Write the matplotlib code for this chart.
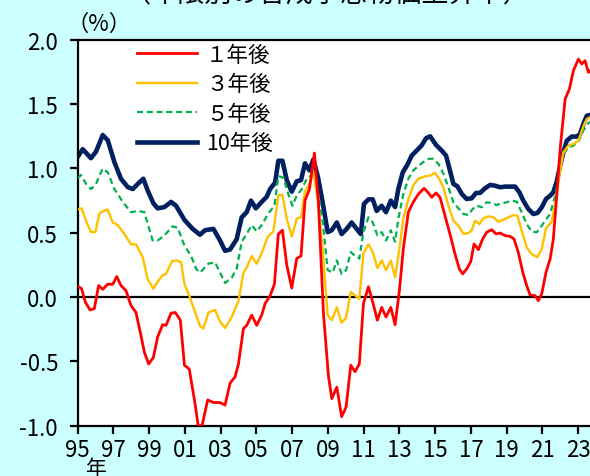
import matplotlib
matplotlib.use("Agg")
import matplotlib.pyplot as plt
import numpy as np

plt.rcParams['font.family'] = ['Noto Sans CJK JP', 'DejaVu Sans']

# --- data: expected inflation by horizon (%, decimal years) ---
yrs_1y = [1995.01, 1995.23, 1995.44, 1995.70, 1995.94, 1996.18, 1996.41, 1996.69, 1996.97, 1997.19,
          1997.43, 1997.71, 1997.99, 1998.27, 1998.55, 1998.74, 1998.98, 1999.24, 1999.48, 1999.76,
          1999.95, 2000.23, 2000.47, 2000.75, 2000.98, 2001.25, 2001.55, 2001.76, 2001.98, 2002.28,
          2002.60, 2002.97, 2003.25, 2003.53, 2003.81, 2004.00, 2004.28, 2004.46, 2004.74, 2005.02,
          2005.30, 2005.49, 2005.77, 2006.01, 2006.23, 2006.46, 2006.70, 2006.98, 2007.26, 2007.50,
          2007.72, 2007.97, 2008.25, 2008.47, 2008.75, 2009.03, 2009.22, 2009.50, 2009.77, 2010.02,
          2010.28, 2010.52, 2010.76, 2010.99, 2011.27, 2011.51, 2011.77, 2012.01, 2012.25, 2012.52,
          2012.76, 2013.00, 2013.22, 2013.50, 2013.78, 2014.06, 2014.38, 2014.62, 2014.81, 2015.05,
          2015.27, 2015.55, 2015.83, 2016.11, 2016.355, 2016.54, 2016.76, 2016.99, 2017.175, 2017.42,
          2017.66, 2017.88, 2018.16, 2018.41, 2018.63, 2018.91, 2019.19, 2019.41, 2019.65, 2019.90,
          2020.12, 2020.31, 2020.59, 2020.77, 2020.96, 2021.20, 2021.43, 2021.61, 2021.80, 2021.99,
          2022.27, 2022.51, 2022.73, 2023.01, 2023.20, 2023.38, 2023.57, 2023.66]
val_1y = [0.085, 0.065, -0.04, -0.10, -0.09, 0.09, 0.06, 0.10, 0.10, 0.16,
          0.09, 0.05, -0.065, -0.12, -0.30, -0.43, -0.52, -0.47, -0.31, -0.215,
          -0.22, -0.125, -0.12, -0.18, -0.53, -0.56, -0.81, -1.01, -0.99, -0.80,
          -0.82, -0.82, -0.84, -0.67, -0.62, -0.52, -0.245, -0.22, -0.14, -0.22,
          -0.14, -0.05, 0.01, 0.10, 0.49, 0.52, 0.25, 0.07, 0.30, 0.32,
          0.75, 0.84, 1.12, 0.74, -0.12, -0.61, -0.79, -0.70, -0.93, -0.855,
          -0.53, -0.58, -0.52, -0.05, 0.08, -0.04, -0.18, -0.08, -0.155, -0.08,
          -0.215, 0.05, 0.376, 0.66, 0.74, 0.80, 0.846, 0.81, 0.776, 0.81,
          0.776, 0.633, 0.49, 0.335, 0.218, 0.18, 0.218, 0.275, 0.413, 0.369,
          0.452, 0.504, 0.524, 0.491, 0.498, 0.478, 0.472, 0.452, 0.348, 0.193,
          0.089, 0.016, 0.011, -0.028, 0.024, 0.193, 0.296, 0.452, 0.789, 1.152,
          1.54, 1.618, 1.76, 1.851, 1.813, 1.838, 1.748, 1.76]

yrs_3y = [1995.01, 1995.23, 1995.51, 1995.75, 1996.00, 1996.22, 1996.45, 1996.69, 1996.97, 1997.25,
          1997.62, 1997.99, 1998.27, 1998.65, 1998.92, 1999.24, 1999.48, 1999.76, 1999.95, 2000.29,
          2000.55, 2000.79, 2000.98, 2001.25, 2001.53, 2001.85, 2002.04, 2002.32, 2002.69, 2002.97,
          2003.25, 2003.62, 2004.00, 2004.28, 2004.46, 2004.74, 2005.02, 2005.30, 2005.64, 2005.95,
          2006.23, 2006.46, 2006.70, 2006.98, 2007.26, 2007.50, 2007.72, 2008.00, 2008.19, 2008.43,
          2008.69, 2008.99, 2009.22, 2009.50, 2009.77, 2010.02, 2010.28, 2010.52, 2010.76, 2010.99,
          2011.27, 2011.51, 2011.77, 2012.01, 2012.25, 2012.52, 2012.76, 2013.00, 2013.22, 2013.50,
          2013.78, 2014.06, 2014.43, 2014.71, 2014.99, 2015.24, 2015.46, 2015.74, 2016.02, 2016.30,
          2016.58, 2016.86, 2017.04, 2017.23, 2017.47, 2017.70, 2017.98, 2018.26, 2018.54, 2018.82,
          2019.095, 2019.37, 2019.60, 2019.84, 2020.12, 2020.40, 2020.72, 2020.96, 2021.20, 2021.52,
          2021.76, 2021.99, 2022.17, 2022.45, 2022.73, 2023.01, 2023.29, 2023.48, 2023.66]
val_3y = [0.68, 0.69, 0.58, 0.505, 0.505, 0.65, 0.67, 0.68, 0.58, 0.56,
          0.49, 0.41, 0.41, 0.31, 0.14, 0.065, 0.12, 0.17, 0.18, 0.28,
          0.285, 0.27, 0.10, 0.01, -0.10, -0.225, -0.245, -0.12, -0.10, -0.19,
          -0.24, -0.155, -0.03, 0.19, 0.23, 0.32, 0.26, 0.34, 0.47, 0.51,
          0.79, 0.795, 0.61, 0.47, 0.61, 0.62, 0.82, 0.89, 0.97, 0.76,
          0.40, -0.14, -0.18, -0.08, -0.20, -0.16, 0.04, 0.013, -0.013, 0.34,
          0.41, 0.35, 0.225, 0.285, 0.21, 0.285, 0.155, 0.375, 0.61, 0.76,
          0.87, 0.92, 0.939, 0.944, 0.965, 0.918, 0.853, 0.711, 0.594, 0.555,
          0.491, 0.498, 0.517, 0.594, 0.568, 0.612, 0.628, 0.62, 0.586, 0.602,
          0.62, 0.638, 0.633, 0.517, 0.387, 0.335, 0.309, 0.374, 0.535, 0.586,
          0.763, 0.983, 1.126, 1.178, 1.19, 1.216, 1.328, 1.385, 1.398]

yrs_5y = [1995.01, 1995.19, 1995.48, 1995.75, 1996.03, 1996.41, 1996.69, 1997.06, 1997.53, 1997.99,
          1998.37, 1998.74, 1999.20, 1999.48, 1999.86, 2000.32, 2000.60, 2000.98, 2001.35, 2001.63,
          2001.85, 2002.32, 2002.69, 2002.97, 2003.25, 2003.62, 2003.90, 2004.18, 2004.46, 2004.74,
          2005.02, 2005.30, 2005.67, 2006.01, 2006.23, 2006.51, 2006.79, 2007.02, 2007.26, 2007.54,
          2007.82, 2008.06, 2008.19, 2008.43, 2008.69, 2008.99, 2009.27, 2009.50, 2009.77, 2010.02,
          2010.28, 2010.52, 2010.76, 2010.99, 2011.27, 2011.51, 2011.77, 2012.01, 2012.25, 2012.52,
          2012.76, 2012.94, 2013.22, 2013.50, 2013.78, 2014.06, 2014.34, 2014.62, 2014.90, 2015.18,
          2015.46, 2015.74, 2016.02, 2016.30, 2016.58, 2016.86, 2017.10, 2017.325, 2017.60, 2017.88,
          2018.16, 2018.44, 2018.72, 2019.00, 2019.28, 2019.56, 2019.84, 2020.12, 2020.40, 2020.68,
          2020.90, 2021.15, 2021.43, 2021.71, 2021.95, 2022.17, 2022.45, 2022.73, 2023.01, 2023.29,
          2023.48, 2023.66]
val_5y = [0.925, 0.95, 0.88, 0.84, 0.88, 1.00, 0.97, 0.84, 0.74, 0.66,
          0.67, 0.66, 0.44, 0.44, 0.48, 0.55, 0.54, 0.40, 0.32, 0.22,
          0.19, 0.26, 0.27, 0.19, 0.11, 0.15, 0.22, 0.43, 0.49, 0.56,
          0.51, 0.56, 0.65, 0.71, 0.94, 0.93, 0.80, 0.71, 0.79, 0.84,
          0.92, 0.945, 0.99, 0.83, 0.61, 0.21, 0.19, 0.285, 0.18, 0.21,
          0.35, 0.32, 0.30, 0.505, 0.62, 0.58, 0.48, 0.505, 0.44, 0.52,
          0.43, 0.61, 0.80, 0.92, 0.985, 1.02, 1.05, 1.075, 1.075, 1.036,
          0.96, 0.853, 0.737, 0.69, 0.646, 0.638, 0.685, 0.711, 0.698, 0.737,
          0.732, 0.716, 0.729, 0.737, 0.75, 0.742, 0.659, 0.568, 0.509, 0.504,
          0.542, 0.594, 0.646, 0.789, 0.97, 1.113, 1.165, 1.178, 1.209, 1.294,
          1.338, 1.364]

yrs_10y = [1995.01, 1995.29, 1995.75, 1996.03, 1996.41, 1996.69, 1997.06, 1997.43, 1997.81, 1998.09,
           1998.37, 1998.68, 1998.92, 1999.24, 1999.48, 1999.86, 2000.23, 2000.51, 2000.98, 2001.44,
           2001.85, 2002.13, 2002.60, 2002.97, 2003.25, 2003.53, 2003.90, 2004.18, 2004.46, 2004.70,
           2004.97, 2005.30, 2005.58, 2005.77, 2006.05, 2006.23, 2006.46, 2006.70, 2006.98, 2007.26,
           2007.50, 2007.72, 2007.97, 2008.19, 2008.45, 2008.69, 2008.99, 2009.22, 2009.50, 2009.77,
           2010.05, 2010.33, 2010.61, 2010.84, 2011.02, 2011.27, 2011.51, 2011.73, 2012.01, 2012.25,
           2012.52, 2012.76, 2012.94, 2013.19, 2013.45, 2013.69, 2013.97, 2014.25, 2014.49, 2014.72,
           2015.05, 2015.37, 2015.61, 2015.83, 2016.02, 2016.24, 2016.49, 2016.76, 2017.04, 2017.29,
           2017.51, 2017.79, 2018.07, 2018.35, 2018.63, 2018.91, 2019.19, 2019.47, 2019.71, 2019.93,
           2020.21, 2020.49, 2020.72, 2020.96, 2021.20, 2021.43, 2021.61, 2021.80, 2021.99, 2022.17,
           2022.36, 2022.64, 2022.92, 2023.10, 2023.29, 2023.48, 2023.66]
val_10y = [1.09, 1.15, 1.08, 1.13, 1.26, 1.22, 1.05, 0.92, 0.855, 0.84,
           0.88, 0.92, 0.83, 0.73, 0.69, 0.70, 0.74, 0.71, 0.60, 0.53,
           0.485, 0.52, 0.53, 0.44, 0.36, 0.37, 0.45, 0.62, 0.66, 0.75,
           0.69, 0.74, 0.78, 0.84, 0.89, 1.06, 1.06, 0.91, 0.82, 0.90,
           0.91, 1.04, 0.985, 1.07, 0.93, 0.75, 0.505, 0.52, 0.58, 0.49,
           0.53, 0.58, 0.53, 0.49, 0.725, 0.76, 0.76, 0.67, 0.71, 0.66,
           0.75, 0.70, 0.84, 0.97, 1.03, 1.10, 1.14, 1.18, 1.235, 1.25,
           1.183, 1.139, 1.10, 0.983, 0.88, 0.862, 0.802, 0.763, 0.768, 0.81,
           0.81, 0.846, 0.872, 0.866, 0.854, 0.859, 0.859, 0.859, 0.815, 0.75,
           0.685, 0.646, 0.654, 0.698, 0.763, 0.789, 0.815, 0.898, 1.022, 1.126,
           1.216, 1.248, 1.248, 1.268, 1.346, 1.41, 1.416]

labels = ['１年後', '３年後', '５年後', '10年後']
tick_years = list(range(1995, 2024, 2))
tick_labels = ['%02d' % (y % 100) for y in tick_years]
y_ticks = [2.0, 1.5, 1.0, 0.5, 0.0, -0.5, -1.0]

BG = '#CCFFFF'
fig = plt.figure(figsize=(5.9, 4.77), dpi=100, facecolor=BG)
ax = fig.add_axes([0.1314, 0.1055, 0.8686, 0.8088])
ax.set_facecolor('white')

ax.axhline(0, color='black', lw=1.6, zorder=1.5)

l10, = ax.plot(yrs_10y, val_10y, color='#002060', lw=3.3, zorder=2, solid_joinstyle='round')
l5, = ax.plot(yrs_5y, val_5y, color='#00B050', lw=1.6, ls=(0, (2.7, 1.7)), zorder=3)
l3, = ax.plot(yrs_3y, val_3y, color='#FFC000', lw=1.7, zorder=4)
l1, = ax.plot(yrs_1y, val_1y, color='#FF0000', lw=2.0, zorder=5)

ax.set_xlim(1995, 2023.66)
ax.set_ylim(-1.0, 2.0)
ax.set_xticks(tick_years)
ax.set_xticklabels(tick_labels)
ax.set_yticks(y_ticks)
ax.set_yticklabels(['%.1f' % v if v >= 0 else '-%.1f' % abs(v) for v in y_ticks])

for side in ['left', 'bottom', 'top']:
    ax.spines[side].set_linewidth(1.6)
    ax.spines[side].set_color('black')
ax.spines['right'].set_visible(False)
ax.tick_params(direction='out', length=6, width=1.6, labelsize=16, colors='black')
ax.tick_params(axis='y', pad=8)
ax.tick_params(axis='x', pad=3)

leg = ax.legend([l1, l3, l5, l10], labels, loc='upper left', bbox_to_anchor=(0.116, 0.99),
                frameon=False, fontsize=15.5, handlelength=2.8, handletextpad=0.4,
                labelspacing=0.35, borderaxespad=0.0, borderpad=0.0)

fig.text(99 / 590, 1 - 24 / 477, '（%）', fontsize=16, ha='center', va='center')
fig.text(96 / 590, 1 - 469 / 477, '年', fontsize=15, ha='center', va='center')
fig.text(327 / 590, 1 - 1.5 / 477, '（年限別の合成予想物価上昇率）', fontsize=19.5,
         ha='center', va='baseline')

fig.savefig('out.png', dpi=100, facecolor=BG)
